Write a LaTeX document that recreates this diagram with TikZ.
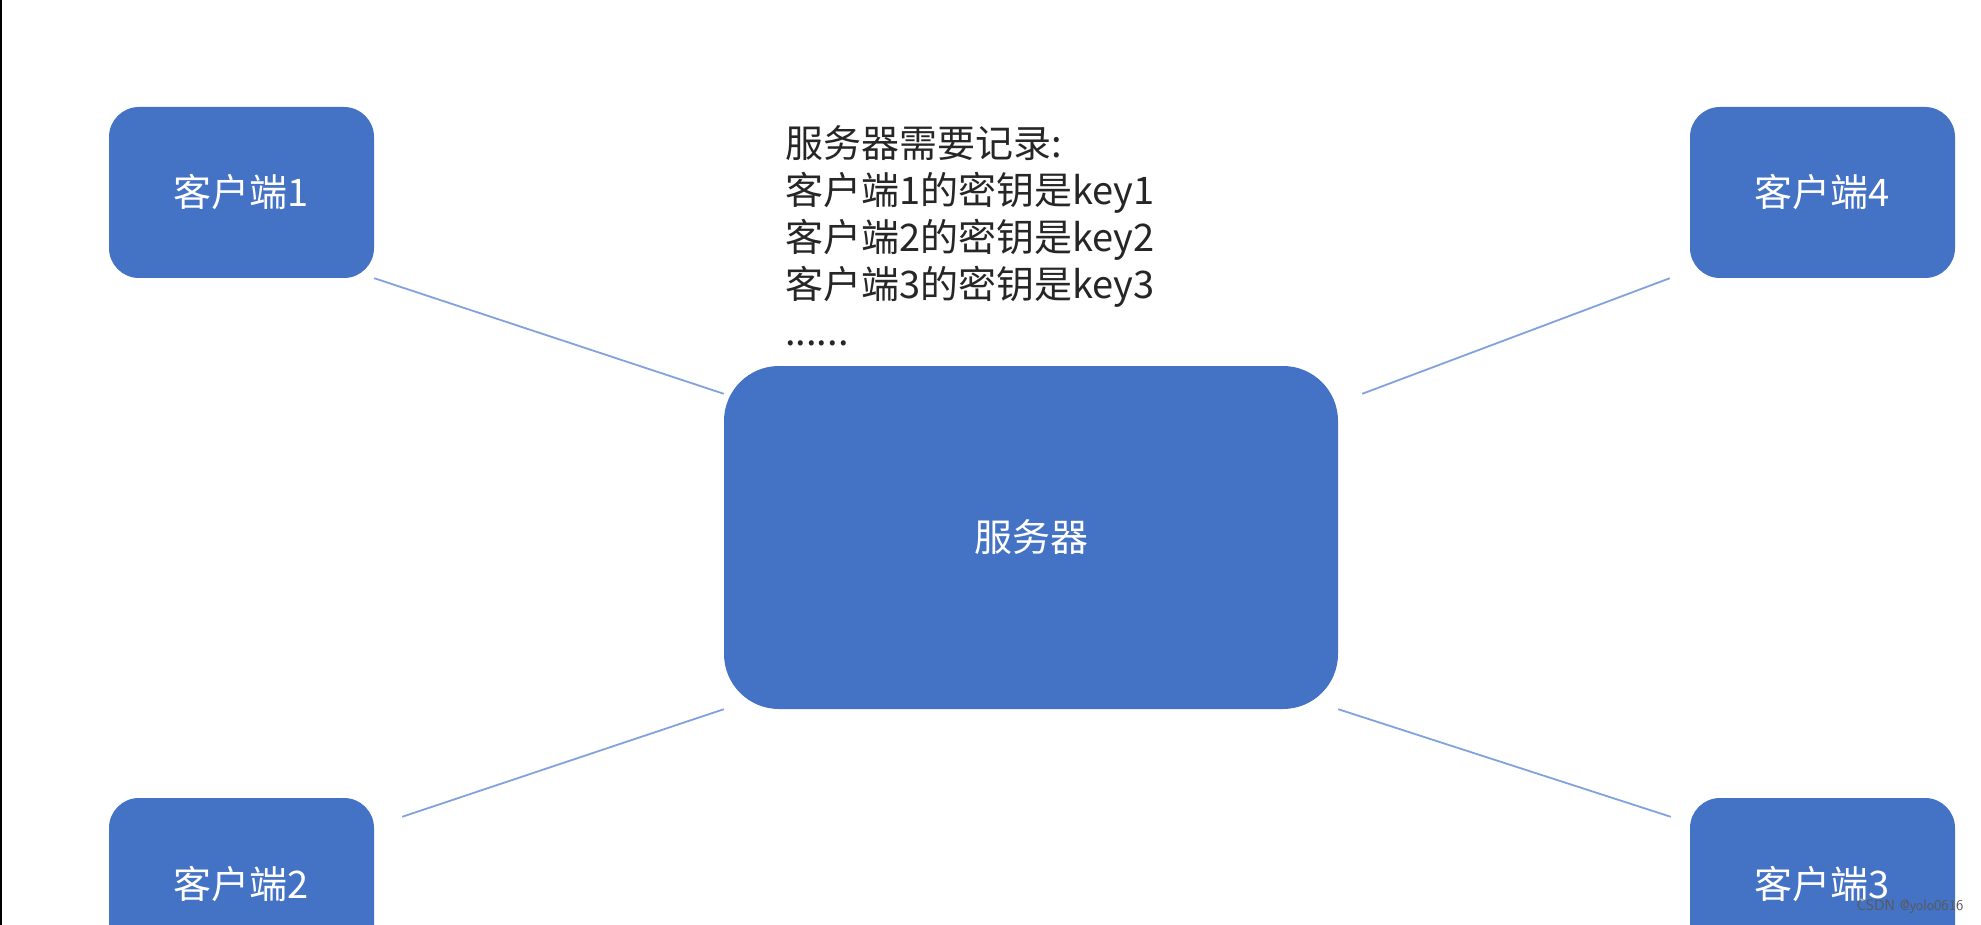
\documentclass[tikz,border=0pt]{standalone}
\usepackage{fontspec}
\usepackage{tikz}
\newfontfamily\cjk{Noto Sans CJK SC}
\definecolor{boxblue}{RGB}{68,114,196}
\definecolor{linkblue}{RGB}{130,162,222}
\begin{document}
\begin{tikzpicture}[x=1pt,y=-1pt,inner sep=0pt,font=\cjk\fontsize{38}{47}\selectfont,
    client/.style={rounded corners=30pt,fill=boxblue,text=white,minimum width=265pt,minimum height=171pt},
    srvbox/.style={rounded corners=55pt,fill=boxblue,text=white,minimum width=614pt,minimum height=343pt},
    link/.style={draw=linkblue,line width=1.8pt} ]
\useasboundingbox (0,0) rectangle (1981,925);
\fill[white] (0,0) rectangle (1981,925);
\draw[line width=1.5pt] (0.75,0) -- (0.75,925);
\node[srvbox] (srv) at (1031,537.5) {\raisebox{-8pt}{服务器}};
\node[client] (c1) at (241.5,192.5) {\raisebox{-8pt}{客户端1}};
\node[client] (c4) at (1822.5,192.5) {\raisebox{-8pt}{客户端4}};
\node[client] (c2) at (241.5,883.5) {\raisebox{-8pt}{客户端2}};
\node[client] (c3) at (1822.5,883.5) {\raisebox{-8pt}{客户端3}};
\node[anchor=north west,align=left,text=black!85] (note) at (785,125)
    {服务器需要记录:\\客户端1的密钥是key1\\客户端2的密钥是key2\\客户端3的密钥是key3\\......};
\draw[link] (c1.south east) -- ([yshift=-28pt]srv.north west);
\draw[link] ([xshift=-20pt]c4.south west) -- ([xshift=24pt,yshift=-28pt]srv.north east);
\draw[link] ([xshift=28pt,yshift=-19pt]c2.north east) -- (srv.south west);
\draw[link] (srv.south east) -- ([xshift=-19pt,yshift=-19pt]c3.north west);
\node[text=black!65,font=\fontsize{15}{15}\selectfont\sffamily] (mark) at (1910,907) {CSDN @yolo0616};
\end{tikzpicture}
\end{document}
